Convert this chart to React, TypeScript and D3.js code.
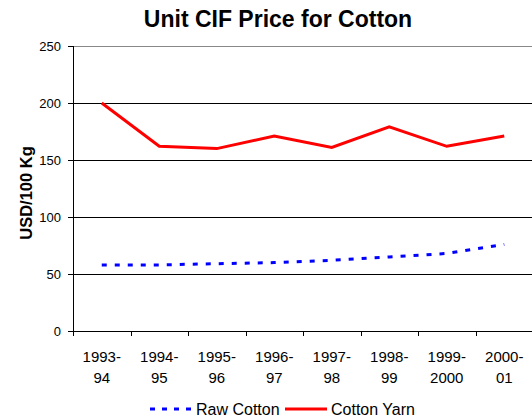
import React from "react";
import * as d3 from "d3";

const categories = [
  ["1993-", "94"],
  ["1994-", "95"],
  ["1995-", "96"],
  ["1996-", "97"],
  ["1997-", "98"],
  ["1998-", "99"],
  ["1999-", "2000"],
  ["2000-", "01"],
];
const rawCotton = [58, 58, 59, 60, 62, 65, 68, 76];
const cottonYarn = [200, 162, 160, 171, 161, 179, 162, 171];
const yTicks = [0, 50, 100, 150, 200, 250];

const W = 532;
const H = 418;
const left = 73;
const right = 533;
const top = 46;
const bottom = 331;
const font = "Arial, 'Liberation Sans', sans-serif";

export default function App() {
  const x = d3.scaleBand<number>().domain(d3.range(categories.length)).range([left, right]);
  const y = d3.scaleLinear().domain([0, 250]).range([bottom, top]);
  const cx = (i: number) => (x(i) as number) + x.bandwidth() / 2;
  const line = d3
    .line<number>()
    .x((_, i) => cx(i))
    .y((d) => y(d));

  return (
    <svg
      width={W}
      height={H}
      style={{ position: "absolute", left: 0, top: 0 }}
      fontFamily={font}
    >
      <rect width={W} height={H} fill="#fff" />
      <text x={278} y={27} textAnchor="middle" fontSize={23} fontWeight="bold">
        Unit CIF Price for Cotton
      </text>
      {yTicks.map((t) => (
        <g key={t}>
          {t > 0 && (
            <line
              x1={left}
              x2={W}
              y1={Math.round(y(t)) + 0.5}
              y2={Math.round(y(t)) + 0.5}
              stroke={t === 250 ? "#888" : "#000"}
              strokeWidth={1}
            />
          )}
          <line
            x1={left - 5}
            x2={left}
            y1={Math.round(y(t)) + 0.5}
            y2={Math.round(y(t)) + 0.5}
            stroke="#000"
          />
          <text x={61} y={y(t) + 4.5} textAnchor="end" fontSize={13}>
            {t}
          </text>
        </g>
      ))}
      <line x1={left + 0.5} x2={left + 0.5} y1={top} y2={bottom + 5} stroke="#000" />
      <line x1={left} x2={W} y1={bottom + 0.5} y2={bottom + 0.5} stroke="#000" />
      {categories.map((c, i) => (
        <g key={i}>
          <line
            x1={Math.round(x(i) as number) + 0.5}
            x2={Math.round(x(i) as number) + 0.5}
            y1={bottom}
            y2={bottom + 5}
            stroke="#000"
          />
          <text x={cx(i)} y={362} textAnchor="middle" fontSize={15}>
            {c[0]}
          </text>
          <text x={cx(i)} y={383} textAnchor="middle" fontSize={15}>
            {c[1]}
          </text>
        </g>
      ))}
      <text
        transform={`translate(32,${193}) rotate(-90)`}
        textAnchor="middle"
        fontSize={16.5}
        fontWeight="bold"
      >
        USD/100 Kg
      </text>
      <path d={line(rawCotton) ?? ""} fill="none" stroke="#0000ff" strokeWidth={3} strokeDasharray="5,8" />
      <path d={line(cottonYarn) ?? ""} fill="none" stroke="#ff0000" strokeWidth={3} />
      <line x1={150} x2={193} y1={409} y2={409} stroke="#0000ff" strokeWidth={3} strokeDasharray="5,7" />
      <text x={196} y={414.5} fontSize={16}>
        Raw Cotton
      </text>
      <line x1={285} x2={327} y1={409} y2={409} stroke="#ff0000" strokeWidth={3} />
      <text x={331} y={414.5} fontSize={16}>
        Cotton Yarn
      </text>
    </svg>
  );
}
